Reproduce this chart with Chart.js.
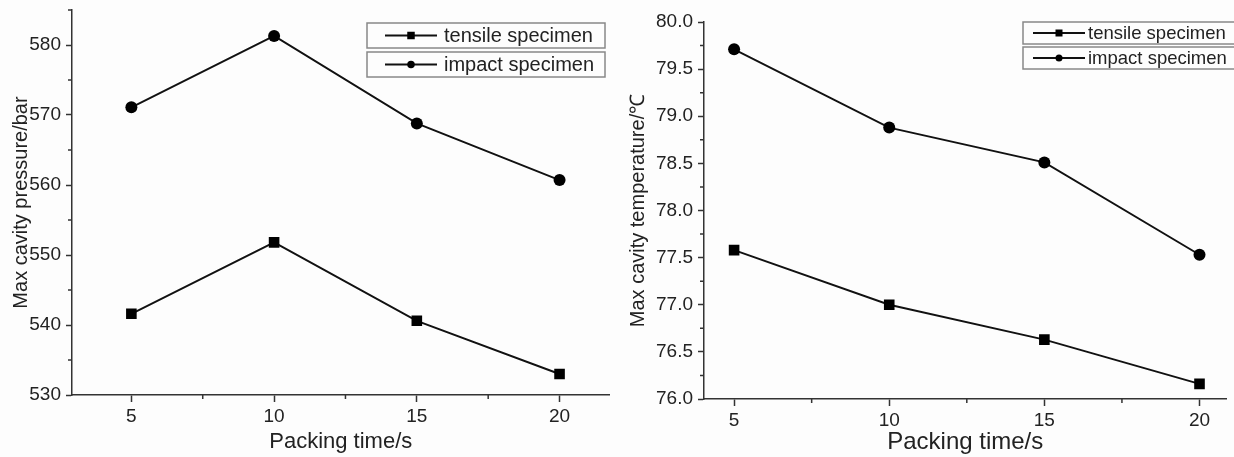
<!DOCTYPE html>
<html>
<head>
<meta charset="utf-8">
<script src="https://cdn.jsdelivr.net/npm/chart.js@4.4.0/dist/chart.umd.min.js"></script>
<style>
  html, body { margin: 0; padding: 0; background: #fff; }
  #wrap { position: relative; width: 1234px; height: 457px; overflow: hidden; background: #fdfdfd; }
  canvas { position: absolute; top: 0; }
  #leftChart { left: 0; }
  #rightChart { left: 617px; }
</style>
</head>
<body>
<div id="wrap">
  <canvas id="leftChart" width="617" height="457"></canvas>
  <canvas id="rightChart" width="617" height="457"></canvas>
</div>
<script>
// Packing time on the x axis (both panels)
const packingTime = [5, 10, 15, 20];
const timeTicks = [5, 10, 15, 20];
const timeMinor = [7.5, 12.5, 17.5];
const seriesNames = ['tensile specimen', 'impact specimen'];

// Left panel: max cavity pressure (bar)
const pressureTensile = [541.6, 551.8, 540.6, 533.0];
const pressureImpact = [571.1, 581.3, 568.8, 560.7];
const pressureTicks = [530, 540, 550, 560, 570, 580];
const pressureMinor = [535, 545, 555, 565, 575, 585];

// Right panel: max cavity temperature (C)
const tempTensile = [77.58, 77.0, 76.63, 76.16];
const tempImpact = [79.71, 78.88, 78.51, 77.53];
const tempTicks = [76.0, 76.5, 77.0, 77.5, 78.0, 78.5, 79.0, 79.5, 80.0];
const tempMinor = [76.25, 76.75, 77.25, 77.75, 78.25, 78.75, 79.25, 79.75];

const FONT = "'Liberation Sans', Arial, sans-serif";
const AXIS = '#333';

// short minor ticks drawn outside the axes
const minorTicks = {
    id: 'minorTicks',
    afterDraw(chart, args, opts) {
        const ctx = chart.ctx;
        const area = chart.chartArea;
        ctx.save();
        ctx.strokeStyle = AXIS;
        ctx.lineWidth = 1.5;
        ctx.beginPath();
        opts.x.forEach(v => {
            const px = chart.scales.x.getPixelForValue(v);
            ctx.moveTo(px, area.bottom);
            ctx.lineTo(px, area.bottom + opts.len);
        });
        opts.y.forEach(v => {
            const py = chart.scales.y.getPixelForValue(v);
            ctx.moveTo(area.left - opts.len, py);
            ctx.lineTo(area.left, py);
        });
        ctx.stroke();
        ctx.restore();
    }
};

// Origin style legend: one framed row per series
const boxLegend = {
    id: 'boxLegend',
    afterDraw(chart, args, opts) {
        const ctx = chart.ctx;
        ctx.save();
        ctx.font = opts.fontSize + 'px ' + FONT;
        ctx.textBaseline = 'middle';
        chart.data.datasets.forEach((ds, i) => {
            const top = opts.y + i * (opts.h + opts.gap);
            const mid = top + opts.h / 2;
            ctx.strokeStyle = '#888';
            ctx.lineWidth = 1.5;
            ctx.strokeRect(opts.x, top, opts.w, opts.h);
            ctx.strokeStyle = '#111';
            ctx.lineWidth = 1.8;
            ctx.beginPath();
            ctx.moveTo(opts.x + opts.lineFrom, mid);
            ctx.lineTo(opts.x + opts.lineTo, mid);
            ctx.stroke();
            const mx = opts.x + (opts.lineFrom + opts.lineTo) / 2;
            ctx.fillStyle = '#000';
            if (ds.pointStyle === 'rect') {
                ctx.fillRect(mx - opts.mark / 2, mid - opts.mark / 2, opts.mark, opts.mark);
            } else {
                ctx.beginPath();
                ctx.arc(mx, mid, opts.mark / 2, 0, Math.PI * 2);
                ctx.fill();
            }
            ctx.fillStyle = '#222';
            ctx.fillText(ds.label, opts.x + opts.textX, mid + 1);
        });
        ctx.restore();
    }
};

function series(label, values, style, radius) {
    return {
        label: label,
        data: packingTime.map((t, i) => ({ x: t, y: values[i] })),
        borderColor: '#111',
        borderWidth: 1.9,
        pointStyle: style,
        pointRadius: radius,
        pointBackgroundColor: '#000',
        pointBorderColor: '#000',
        pointBorderWidth: 0,
        tension: 0,
        fill: false
    };
}

function makeChart(id, cfg) {
    return new Chart(document.getElementById(id), {
        type: 'line',
        data: {
            datasets: [
                series(seriesNames[0], cfg.tensile, 'rect', cfg.rectR),
                series(seriesNames[1], cfg.impact, 'circle', cfg.circleR)
            ]
        },
        options: {
            responsive: false,
            animation: false,
            devicePixelRatio: 1,
            layout: { padding: cfg.padding },
            plugins: {
                legend: { display: false },
                tooltip: { enabled: false },
                minorTicks: { x: timeMinor, y: cfg.minor, len: 4 },
                boxLegend: cfg.legend
            },
            scales: {
                x: {
                    type: 'linear',
                    min: cfg.xMin,
                    max: cfg.xMax,
                    afterBuildTicks: s => { s.ticks = timeTicks.map(v => ({ value: v })); },
                    afterFit: s => {
                        s.height = cfg.xHeight;
                        s.paddingLeft = 0;
                        s.paddingRight = 0;
                    },
                    border: { display: true, color: AXIS, width: 1.5 },
                    grid: { drawOnChartArea: false, tickLength: 7, tickColor: AXIS, tickWidth: 1.5 },
                    ticks: { color: '#222', font: { family: FONT, size: 19 }, padding: 3 },
                    title: {
                        display: true,
                        text: 'Packing time/s',
                        color: '#222',
                        font: { family: FONT, size: cfg.xTitleSize },
                        padding: { top: 0, bottom: cfg.xTitlePad }
                    }
                },
                y: {
                    type: 'linear',
                    min: cfg.yMin,
                    max: cfg.yMax,
                    afterBuildTicks: s => { s.ticks = cfg.ticks.map(v => ({ value: v })); },
                    afterFit: s => {
                        s.width = cfg.yWidth;
                        s.paddingTop = 0;
                        s.paddingBottom = 0;
                    },
                    border: { display: true, color: AXIS, width: 1.5 },
                    grid: { drawOnChartArea: false, tickLength: 6, tickColor: AXIS, tickWidth: 1.5 },
                    ticks: {
                        color: '#222',
                        font: { family: FONT, size: 19 },
                        padding: 5,
                        callback: v => v.toFixed(cfg.decimals)
                    },
                    title: {
                        display: true,
                        text: cfg.yTitle,
                        color: '#222',
                        font: { family: FONT, size: 20 },
                        padding: { top: 9, bottom: 0 }
                    }
                }
            }
        },
        plugins: [minorTicks, boxLegend]
    });
}

makeChart('leftChart', {
    tensile: pressureTensile,
    impact: pressureImpact,
    ticks: pressureTicks,
    minor: pressureMinor,
    decimals: 0,
    yMin: 530, yMax: 585,
    xMin: 2.92, xMax: 21.75,
    yWidth: 72, xHeight: 62,
    padding: { top: 10, right: 5, left: 0, bottom: 0 },
    xTitleSize: 22, xTitlePad: 2,
    yTitle: 'Max cavity pressure/bar',
    rectR: 7.5, circleR: 6,
    legend: { x: 367, y: 23, w: 238, h: 25, gap: 4, lineFrom: 18, lineTo: 70, textX: 77, mark: 7.5, fontSize: 20 }
});

makeChart('rightChart', {
    tensile: tempTensile,
    impact: tempImpact,
    ticks: tempTicks,
    minor: tempMinor,
    decimals: 1,
    yMin: 76, yMax: 80,
    xMin: 4.03, xMax: 20.87,
    yWidth: 87, xHeight: 58,
    padding: { top: 22, right: 0, left: 0, bottom: 0 },
    xTitleSize: 24, xTitlePad: 0,
    yTitle: 'Max cavity temperature/\u2103',
    rectR: 7.5, circleR: 6,
    legend: { x: 406, y: 22, w: 212, h: 22, gap: 3, lineFrom: 10, lineTo: 62, textX: 65, mark: 7, fontSize: 18.5 }
});
</script>
</body>
</html>
